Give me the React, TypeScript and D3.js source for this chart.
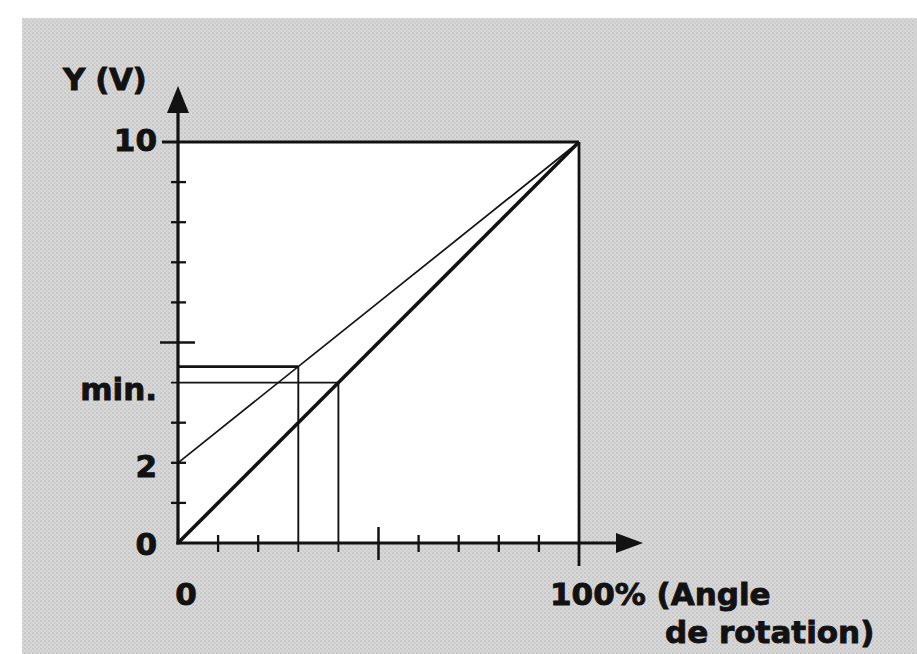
import React from "react";
import * as d3 from "d3";

// ---- data ----
const angleDomain = [0, 100]; // % of rotation angle
const voltDomain = [0, 10]; // Y (V)
const lineThick = [
  { angle: 0, volt: 0 },
  { angle: 100, volt: 10 },
];
const lineThin = [
  { angle: 0, volt: 2 },
  { angle: 100, volt: 10 },
];
const readings = [
  { angle: 30, volt: 4.4, width: 2.8 },
  { angle: 40, volt: 4.0, width: 1.7 },
];
const yMinorTicks = [1, 2, 3, 6, 7, 8, 9];
const yMajorTicks = [5];
const xMinorTicks = [10, 20, 60, 70, 80, 90];
const xMajorTicks = [50];
const yLabels = [
  { v: 10, text: "10", dy: 9 },
  { v: 4, text: "min.", dy: 17 },
  { v: 2, text: "2", dy: 14 },
  { v: 0, text: "0", dy: 12 },
];
const yTitle = "Y (V)";
const xLabel0 = "0";
const xTitle1 = "100% (Angle";
const xTitle2 = "de rotation)";

const W = 917;
const H = 654;
const INK = "#121212";
const FONT = "'DejaVu Sans', sans-serif";

export default function App() {
  const x = d3.scaleLinear().domain(angleDomain).range([178, 579]);
  const y = d3.scaleLinear().domain(voltDomain).range([543, 142]);
  const line = d3
    .line<{ angle: number; volt: number }>()
    .x((d) => x(d.angle))
    .y((d) => y(d.volt));

  const x0 = x(0);
  const y0 = y(0);
  const xEnd = x(100);
  const yTop = y(10);

  return (
    <svg
      width={W}
      height={H}
      style={{ position: "absolute", left: 0, top: 0 }}
      fontFamily={FONT}
    >
      <defs>
        <pattern id="halftone" width="4" height="4" patternUnits="userSpaceOnUse">
          <rect width="4" height="4" fill="#d8d8d8" />
          <rect x="0" y="0" width="2" height="2" fill="#c8c8c8" />
          <rect x="2" y="2" width="2" height="2" fill="#cecece" />
        </pattern>
      </defs>
      <rect width={W} height={H} fill="#ffffff" />
      <rect x={22} y={18} width={W - 22} height={H - 18} fill="url(#halftone)" />

      {/* white plot square */}
      <rect x={x0} y={yTop} width={xEnd - x0} height={y0 - yTop} fill="#ffffff" />

      {/* box: top (10 V) and right (100%) */}
      <line x1={x0 - 16} x2={xEnd} y1={yTop} y2={yTop} stroke={INK} strokeWidth={2.8} />
      <line x1={xEnd} x2={xEnd} y1={yTop} y2={y0 + 23} stroke={INK} strokeWidth={2.8} />

      {/* reading guides */}
      {readings.map((r, i) => (
        <g key={i}>
          <line
            x1={i === 1 ? x0 - 7 : x0}
            x2={x(r.angle)}
            y1={y(r.volt)}
            y2={y(r.volt)}
            stroke={INK}
            strokeWidth={r.width}
          />
          <line
            x1={x(r.angle)}
            x2={x(r.angle)}
            y1={y(r.volt)}
            y2={y0 + 9}
            stroke={INK}
            strokeWidth={1.9}
          />
        </g>
      ))}

      {/* characteristic lines */}
      <path d={line(lineThin) || ""} fill="none" stroke={INK} strokeWidth={1.7} />
      <path d={line(lineThick) || ""} fill="none" stroke={INK} strokeWidth={3.6} />

      {/* y axis */}
      <line x1={x0} x2={x0} y1={y0 + 1.5} y2={108} stroke={INK} strokeWidth={3.2} />
      <path d={`M${x0},86 L${x0 + 11},113 L${x0 - 11},113 Z`} fill={INK} />
      {yMinorTicks.map((t) => (
        <line key={t} x1={x0 - 7} x2={x0 + 8} y1={y(t)} y2={y(t)} stroke={INK} strokeWidth={2.3} />
      ))}
      {yMajorTicks.map((t) => (
        <line key={t} x1={x0 - 18} x2={x0 + 17} y1={y(t)} y2={y(t)} stroke={INK} strokeWidth={2.5} />
      ))}

      {/* x axis */}
      <line x1={x0 - 1.6} x2={620} y1={y0} y2={y0} stroke={INK} strokeWidth={3.2} />
      <path d={`M643,${y0} L616,${y0 - 10} L616,${y0 + 10} Z`} fill={INK} />
      {xMinorTicks.map((t) => (
        <line key={t} x1={x(t)} x2={x(t)} y1={y0 - 8} y2={y0 + 9} stroke={INK} strokeWidth={2.3} />
      ))}
      {xMajorTicks.map((t) => (
        <line key={t} x1={x(t)} x2={x(t)} y1={y0 - 16} y2={y0 + 17} stroke={INK} strokeWidth={2.5} />
      ))}

      {/* labels */}
      <g fontWeight="bold" fontSize={31} fill={INK} stroke={INK} strokeWidth={0.9}>
        <text x={63} y={90} letterSpacing={-0.5}>{yTitle}</text>
        {yLabels.map((l) => (
          <text key={l.text} x={x0 - 21} y={y(l.v) + l.dy} textAnchor="end">
            {l.text}
          </text>
        ))}
        <text x={x0 + 8} y={605} textAnchor="middle">{xLabel0}</text>
        <text x={xEnd - 29} y={605}>{xTitle1}</text>
        <text x={665} y={643}>{xTitle2}</text>
      </g>
    </svg>
  );
}
